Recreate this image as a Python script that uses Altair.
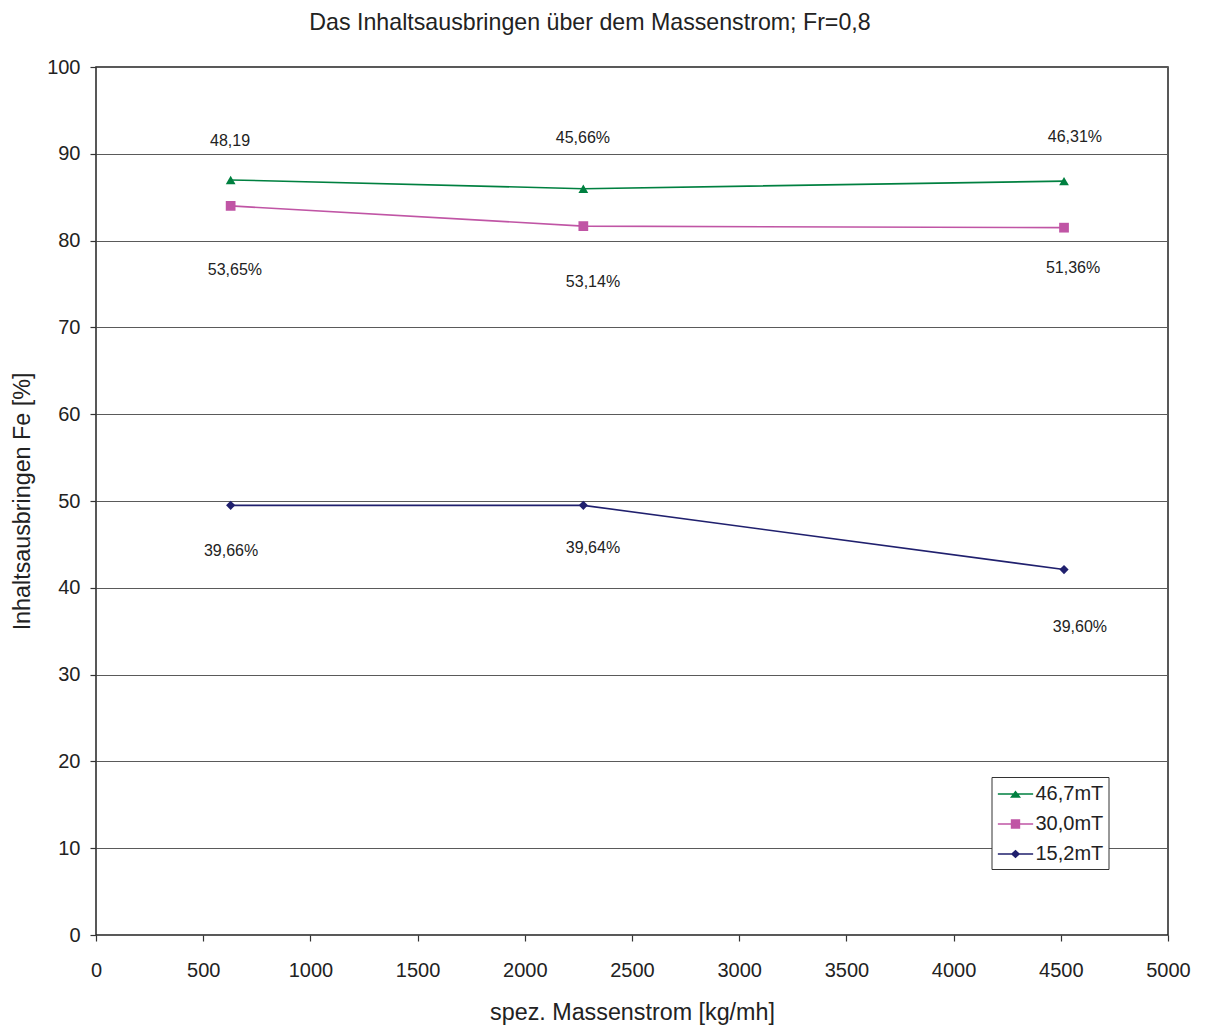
import altair as alt
import pandas as pd

# ---- data ----
x_vals = [628, 2273, 4515]
series_names = ["46,7mT", "30,0mT", "15,2mT"]
y_467 = [86.99, 85.98, 86.85]
y_300 = [84.0, 81.67, 81.49]
y_152 = [49.5, 49.5, 42.1]

colors = ["#008040", "#C055A5", "#20206E"]
plot_shapes = ["triangle-up", "square", "diamond"]
plot_sizes = [95, 95, 85]
legend_paths = [
    "M-1.47,-0.06H1.47V0.06H-1.47Z M0,-0.3L0.46,0.32H-0.46Z",
    "M-1.47,-0.06H1.47V0.06H-1.47Z M-0.39,-0.39H0.39V0.39H-0.39Z",
    "M-1.47,-0.06H1.47V0.06H-1.47Z M0,-0.36L0.39,0L0,0.36L-0.39,0Z",
]

label_texts = ["48,19", "45,66%", "46,31%", "53,65%", "53,14%", "51,36%",
               "39,66%", "39,64%", "39,60%"]
label_x = [625, 2271, 4566, 648, 2318, 4557, 630, 2318, 4589]
label_y = [91.5, 91.8, 91.9, 76.6, 75.2, 76.8, 44.2, 44.6, 35.5]

x_ticks = list(range(0, 5001, 500))
y_ticks = list(range(0, 101, 10))

FONT = "Liberation Sans"
TXT = "#222222"

rows = []
for name, ys in zip(series_names, [y_467, y_300, y_152]):
    for xv, yv in zip(x_vals, ys):
        rows.append({"series": name, "x": xv, "y": yv})
df = pd.DataFrame(rows)
labels_df = pd.DataFrame({"x": label_x, "y": label_y, "text": label_texts})

x_enc = alt.X(
    "x:Q",
    scale=alt.Scale(domain=[0, 5000], nice=False, zero=False),
    axis=alt.Axis(
        values=x_ticks, format="d", title="spez. Massenstrom [kg/mh]",
        grid=False, domain=False, tickSize=6, tickColor="#333333", tickWidth=1.2,
        labelPadding=35, labelBaseline="alphabetic", labelFlush=False,
        labelOverlap=False, labelFont=FONT, labelFontSize=20, labelColor=TXT,
        titleFont=FONT, titleFontSize=23.3, titleFontWeight="normal", titleColor=TXT,
        titleY=84, titleBaseline="alphabetic",
    ),
)
y_enc = alt.Y(
    "y:Q",
    scale=alt.Scale(domain=[0, 100], nice=False),
    axis=alt.Axis(
        values=y_ticks, format="d", title="Inhaltsausbringen Fe [%]",
        grid=True, gridColor="#5a5a5a", gridWidth=1, domain=False,
        tickSize=6, tickColor="#333333", tickWidth=1.2,
        labelPadding=10, labelFont=FONT, labelFontSize=20, labelColor=TXT,
        labelFlush=False, labelOverlap=False,
        titleFont=FONT, titleFontSize=23.3, titleFontWeight="normal", titleColor=TXT,
        titleX=-67, titleY=434, titleAngle=270, titleAlign="center",
        titleBaseline="alphabetic",
    ),
)

layers = []
for i, (name, c, shp, sz) in enumerate(zip(series_names, colors, plot_shapes, plot_sizes)):
    base = alt.Chart(df).transform_filter(alt.datum.series == name)
    if i == 0:
        enc = dict(x=x_enc, y=y_enc)
    else:
        enc = dict(x="x:Q", y="y:Q")
    layers.append(base.mark_line(strokeWidth=1.6, color=c).encode(**enc))
    layers.append(
        base.mark_point(filled=True, shape=shp, size=sz, color=c, opacity=1)
        .encode(x="x:Q", y="y:Q")
    )

legend_layer = alt.Chart(df).mark_point(filled=True, size=0, opacity=1).encode(
    x="x:Q", y="y:Q",
    color=alt.Color(
        "series:N", scale=alt.Scale(domain=series_names, range=colors),
        legend=alt.Legend(
            title=None, orient="none", legendX=895.5, legendY=710,
            symbolSize=576, symbolOffset=7, labelOffset=8, padding=5,
            rowPadding=8, strokeColor="#333333", fillColor="white",
            labelFont=FONT, labelFontSize=20, labelColor=TXT,
            symbolOpacity=1, symbolStrokeWidth=0,
        ),
    ),
    shape=alt.Shape("series:N", scale=alt.Scale(domain=series_names, range=legend_paths)),
)

texts = alt.Chart(labels_df).mark_text(
    font=FONT, fontSize=16, color=TXT, baseline="middle", align="center"
).encode(x="x:Q", y="y:Q", text="text:N")

chart = alt.layer(*layers, legend_layer, texts).properties(
    width=1072, height=868,
    autosize=alt.AutoSizeParams(type="none"),
    padding={"left": 88, "top": 59, "right": 31, "bottom": 91},
    background="white",
    title=alt.Title(
        "Das Inhaltsausbringen über dem Massenstrom; Fr=0,8",
        font=FONT, fontSize=23.2, fontWeight="normal", color=TXT,
        frame="group", anchor="middle", offset=4, baseline="alphabetic", dx=-42,
    ),
).configure_view(stroke="#222222", strokeWidth=1.5)

chart.save("out.html", embed_options={"renderer": "svg", "actions": False})
